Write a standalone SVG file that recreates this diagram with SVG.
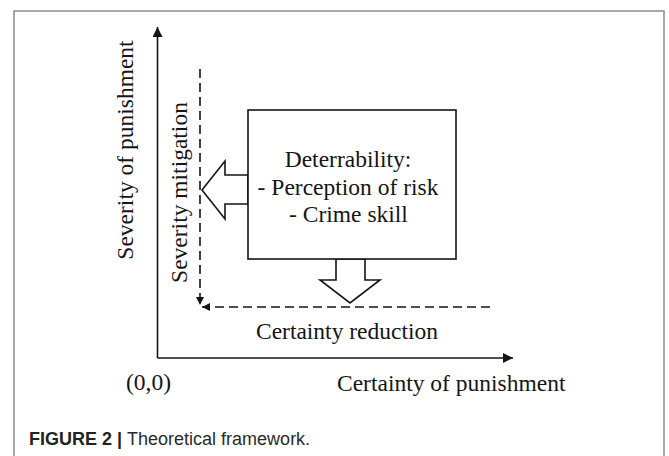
<svg xmlns="http://www.w3.org/2000/svg" width="669" height="456" viewBox="0 0 669 456">
  <style>
    .t { font-family: "Liberation Serif", "Times New Roman", serif; font-size: 23.5px; fill: #151515; }
    .ax { stroke: #151515; stroke-width: 1.6; fill: none; }
    .dash { stroke: #151515; stroke-width: 1.6; fill: none; stroke-dasharray: 9 5; }
    .blk { stroke: #151515; stroke-width: 1.6; fill: #ffffff; stroke-linejoin: miter; }
    .cap { font-family: "Liberation Sans", Arial, sans-serif; font-size: 18px; fill: #2a2a2a; }
  </style>
  <defs>
    <marker id="ah" viewBox="0 0 10 10" refX="10" refY="5" markerWidth="9" markerHeight="8" markerUnits="userSpaceOnUse" orient="auto">
      <path d="M0,0 L10,5 L0,10 Z" fill="#151515"/>
    </marker>
    <marker id="axh" viewBox="0 0 10 10" refX="10" refY="5" markerWidth="11" markerHeight="10" markerUnits="userSpaceOnUse" orient="auto">
      <path d="M0,0 L10,5 L0,10 Z" fill="#151515"/>
    </marker>
  </defs>
  <rect width="669" height="456" fill="#ffffff"/>
  <path d="M14,456 V11 H664 V456" fill="none" stroke="#8a8a8a" stroke-width="1.5"/>

  <g id="connectors">
    <line class="ax" x1="157.5" y1="358" x2="157.5" y2="27" marker-end="url(#axh)"/>
    <line class="ax" x1="157.5" y1="358" x2="513" y2="358" marker-end="url(#axh)"/>
    <line class="dash" x1="200" y1="69" x2="200" y2="305" marker-end="url(#ah)"/>
    <line class="dash" x1="490" y1="307" x2="202" y2="307" marker-end="url(#ah)"/>
    <polygon class="blk" points="248,175 225,175 225,161 202,190 225,219 225,204 248,204"/>
    <polygon class="blk" points="336,259 336,280 320,280 350,303 380,280 365,280 365,259"/>
  </g>

  <g id="axis-labels">
    <text class="t" transform="translate(133,150) rotate(-90)" text-anchor="middle">Severity of punishment</text>
    <text class="t" x="126" y="390">(0,0)</text>
    <text class="t" x="337" y="391">Certainty of punishment</text>
  </g>

  <g id="severity-mitigation">
    <text class="t" transform="translate(187,192.5) rotate(-90)" text-anchor="middle">Severity mitigation</text>
  </g>

  <g id="certainty-reduction">
    <text class="t" x="347" y="339" text-anchor="middle">Certainty reduction</text>
  </g>

  <g id="deterrability">
    <rect x="248" y="110" width="208" height="149" fill="#ffffff" stroke="#151515" stroke-width="1.6"/>
    <text class="t" x="348" y="167" text-anchor="middle">Deterrability:</text>
    <text class="t" x="348" y="194.5" text-anchor="middle">- Perception of risk</text>
    <text class="t" x="348.5" y="222" text-anchor="middle">- Crime skill</text>
  </g>

  <g id="caption">
    <text class="cap" x="29" y="445"><tspan font-weight="bold" fill="#222">FIGURE 2 | </tspan><tspan>Theoretical framework.</tspan></text>
  </g>
</svg>
